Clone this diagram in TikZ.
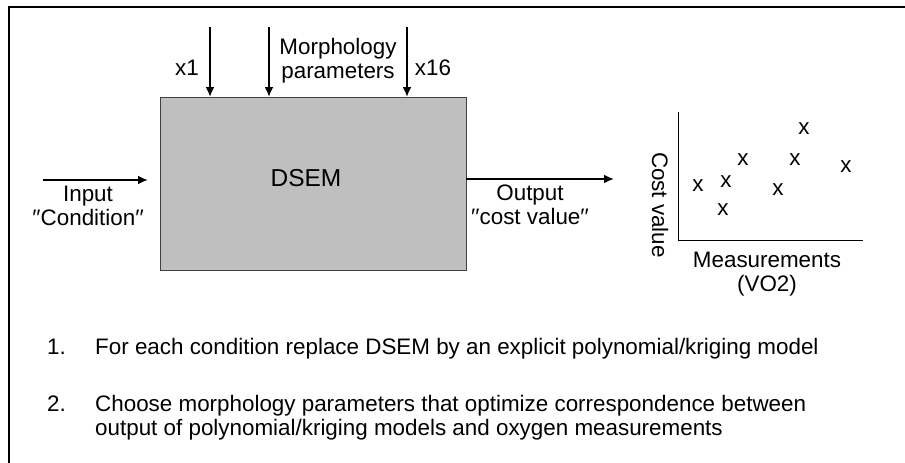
\documentclass[tikz,border=0pt]{standalone}
\usepackage{fontspec}
\setmainfont{Liberation Sans}
\usetikzlibrary{arrows.meta}
\begin{document}
\begin{tikzpicture}[x=1pt,y=-1pt,
  lbl/.style={font=\fontsize{22.4}{24}\selectfont, inner sep=0pt, align=center},
  arr/.style={line width=2pt, -{Latex[length=10pt,width=9pt]}},
  mk/.style={font=\fontsize{22.4}{24}\selectfont, inner sep=0pt}]
\useasboundingbox (0,0) rectangle (905,463);
% frame
\draw[line width=2pt] (905,7) -- (9,7) -- (9,463);
% main box
\node (dsem) [draw=black!75, fill=black!25, line width=1pt, minimum width=306pt, minimum height=173pt, inner sep=0pt, anchor=north west] at (160,97) {};
\node (dsemtxt) [lbl, font=\fontsize{24.5}{26}\selectfont] at (306,178) {DSEM};
% top arrows
\coordinate (t1) at (210,27);
\coordinate (t2) at (269,27);
\coordinate (t3) at (407,27);
\coordinate (b1) at (210,97);
\coordinate (b2) at (269,97);
\coordinate (b3) at (407,97);
\draw[arr] (t1) -- (b1);
\draw[arr] (t2) -- (b2);
\draw[arr] (t3) -- (b3);
\node (x1) [lbl] at (187,68) {x1};
\node (morph) [lbl] at (338,61) {Morphology\\parameters};
\node (x16) [lbl] at (433,68) {x16};
% input
\coordinate (inA) at (43,180);
\coordinate (inB) at (148,180);
\draw[arr] (inA) -- (inB);
\node (input) [lbl] at (88,206) {Input\\′′Condition′′};
% output
\coordinate (outA) at (466,179);
\coordinate (outB) at (614,179);
\draw[arr] (outA) -- (outB);
\node (output) [lbl] at (530,205) {Output\\′′cost value′′};
% plot
\coordinate (ytop) at (678,112);
\coordinate (orig) at (678,240);
\coordinate (xend) at (863,240);
\draw[line width=1pt] (ytop) -- (orig) -- (xend);
\node (cost) [lbl, rotate=-90] at (660,205) {Cost value};
\node (meas) [lbl] at (767,274) {Measurements\\(VO2)};
\node (m1) [mk] at (698,186) {x};
\node (m2) [mk] at (726,182) {x};
\node (m3) [mk] at (723,210) {x};
\node (m4) [mk] at (743,160) {x};
\node (m5) [mk] at (778,190) {x};
\node (m6) [mk] at (795,160) {x};
\node (m7) [mk] at (804,129) {x};
\node (m8) [mk] at (846,167) {x};
% list
\node (n1) [lbl, anchor=base west] at (47,354) {1.};
\node (l1) [lbl, anchor=base west] at (95,354) {For each condition replace DSEM by an explicit polynomial/kriging model};
\node (n2) [lbl, anchor=base west] at (47,411) {2.};
\node (l2) [lbl, anchor=base west] at (95,411) {Choose morphology parameters that optimize correspondence between};
\node (l3) [lbl, anchor=base west] at (95,435) {output of polynomial/kriging models and oxygen measurements};
\end{tikzpicture}
\end{document}
